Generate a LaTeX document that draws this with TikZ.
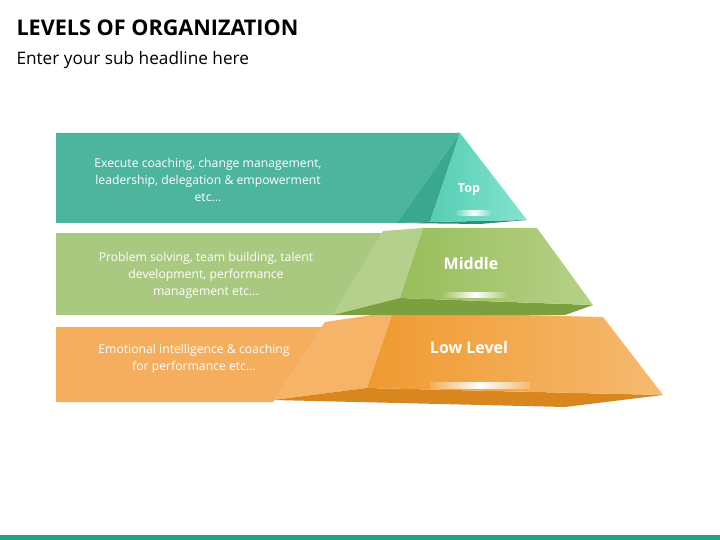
\documentclass[tikz,border=0pt]{standalone}
\usepackage{fontspec}
\setmainfont{Open Sans}
\definecolor{tband}{HTML}{4DB59D}
\definecolor{tfrontA}{HTML}{55CDB3}
\definecolor{tfrontB}{HTML}{86E3CF}
\definecolor{tside}{HTML}{3AA88F}
\definecolor{tbot}{HTML}{2C8F78}
\definecolor{gband}{HTML}{A9C981}
\definecolor{gside}{HTML}{B4D08C}
\definecolor{gfrontA}{HTML}{98BE5A}
\definecolor{gfrontB}{HTML}{B6D189}
\definecolor{gbot}{HTML}{7AA040}
\definecolor{oband}{HTML}{F4AE5E}
\definecolor{oside}{HTML}{F5B468}
\definecolor{ofrontA}{HTML}{F09A30}
\definecolor{ofrontB}{HTML}{F5BA70}
\definecolor{obot}{HTML}{D9861E}
\definecolor{bline}{HTML}{2A9D86}
\begin{document}
\begin{tikzpicture}[x=1pt,y=-1pt,
  bandtxt/.style={text=white,align=center,font=\fontsize{12.2}{17}\selectfont},
  lvl/.style={text=white,font=\bfseries\fontsize{16}{18}\selectfont},
  glint/.style={left color=white!0, right color=white!0, middle color=white, opacity=0.75}]
\useasboundingbox (0,0) rectangle (720,540);
\fill[white] (0,0) rectangle (720,540);
\node[anchor=west,font=\bfseries\fontsize{21.6}{26}\selectfont] (title) at (13,28) {LEVELS OF ORGANIZATION};
\node[anchor=west,font=\fontsize{17.2}{20}\selectfont] (sub) at (13,60) {Enter your sub headline here};
\fill[bline] (0,535) rectangle (720,540);
% low
\fill[oband] (56,327) -- (325,327) -- (273,402) -- (56,402) -- cycle;
\fill[oside] (325,322) -- (393,312) -- (367,388) -- (273,400) -- cycle;
\fill[obot] (273,400) -- (367,388) -- (663,395) -- (565,407) -- cycle;
\shade[left color=ofrontA, right color=ofrontB] (393,312) -- (603,317) -- (663,395) -- (367,388) -- cycle;
\shade[left color=ofrontA!80!white, right color=ofrontB, middle color=white] (430,382) rectangle (530,388);
% middle
\fill[gband] (56,233) -- (383,233) -- (333,315) -- (56,315) -- cycle;
\fill[gside] (383,231) -- (423,228) -- (400,298) -- (333,315) -- cycle;
\fill[gbot] (333,315) -- (400,298) -- (593,305) -- (565,315) -- cycle;
\shade[left color=gfrontA, right color=gfrontB, middle color=white] (440,292) rectangle (510,298);
\shade[left color=gfrontA, right color=gfrontB] (423,228) -- (537,228) -- (593,305) -- (400,298) -- (423,228);
\shade[left color=gfrontA!90!gfrontB, right color=gfrontA!60!gfrontB, middle color=white] (440,292) rectangle (510,297);
% top
\fill[tband] (56,133) -- (460,133) -- (397,223) -- (56,223) -- cycle;
\fill[tside] (460,133) -- (397,223) -- (430,222) -- cycle;
\fill[tbot] (397,223) -- (430,222) -- (527,220) -- (480,224) -- cycle;
\shade[left color=tfrontA, right color=tfrontB] (460,133) -- (527,220) -- (430,222) -- cycle;
\shade[left color=tfrontA!70!tfrontB, right color=tfrontA!40!tfrontB, middle color=white] (455,211) rectangle (492,216);
% texts
\node[bandtxt] (t1) at (208,180) {Execute coaching, change management,\\leadership, delegation \& empowerment\\etc...};
\node[bandtxt] (t2) at (206,275) {Problem solving, team building, talent\\development, performance\\management etc...};
\node[bandtxt] (t3) at (194,359) {Emotional intelligence \& coaching\\for performance etc...};
\node[text=white,font=\bfseries\fontsize{12.5}{14}\selectfont] (l1) at (469,190) {Top};
\node[lvl] (l2) at (471,263) {Middle};
\node[lvl] (l3) at (469,347) {Low Level};
\end{tikzpicture}
\end{document}
